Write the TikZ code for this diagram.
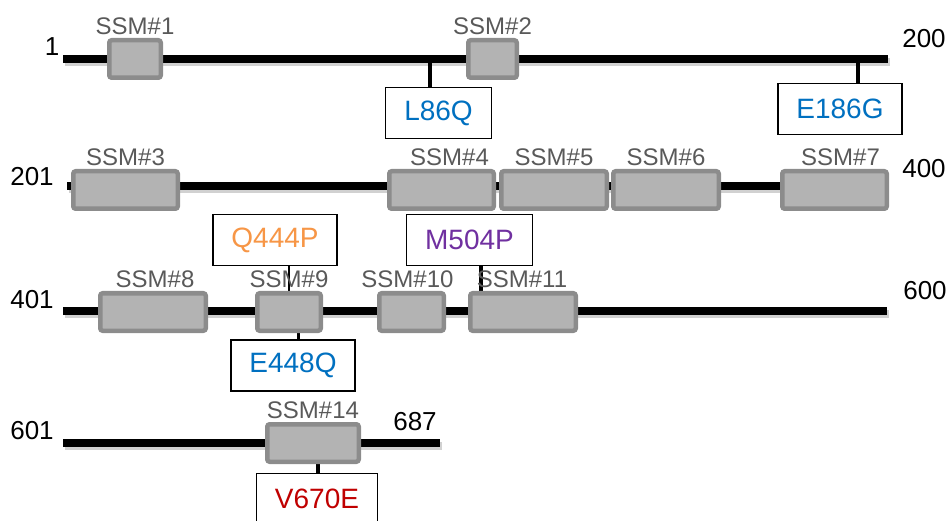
\documentclass[tikz,border=0pt]{standalone}
\usepackage{fontspec}
\setmainfont{Liberation Sans}
\usetikzlibrary{backgrounds}
\definecolor{ink}{HTML}{000000}
\definecolor{ssmfill}{HTML}{B3B3B3}
\definecolor{ssmedge}{HTML}{8C8C8C}
\definecolor{ssmtext}{HTML}{595959}
\definecolor{mutblue}{HTML}{0070C0}
\definecolor{mutorange}{HTML}{F79646}
\definecolor{mutpurple}{HTML}{7030A0}
\definecolor{mutred}{HTML}{C00000}

\begin{document}
\begin{tikzpicture}[x=1pt,y=-1pt,
  backbone/.style={line width=7.5pt,ink},
  bbshadow/.style={line width=7.5pt,black,opacity=.18},
  ssm/.style={draw=ssmedge,fill=ssmfill,line width=4.5pt,rounded corners=2.5pt,
    inner sep=0pt,outer sep=2.25pt,minimum height=37.5pt},
  ssmlabel/.style={text=ssmtext,font=\fontsize{24}{28}\selectfont,inner sep=0pt},
  mut/.style={draw=ink,fill=white,line width=1.4pt,inner xsep=18.5pt,
    minimum height=51pt,font=\fontsize{28}{32}\selectfont},
  posnum/.style={font=\fontsize{26}{30}\selectfont,inner sep=0pt},
  stemline/.style={line width=3.5pt,ink}]
  \useasboundingbox (0,0) rectangle (950,521);

  % backbones of the four rows
  \foreach \r/\y/\xa/\xb in {1/59/63/888, 2/186/67/885, 3/311/63/887, 4/443/63/440}
  {
    \coordinate (r\r a) at (\xa,\y);
    \coordinate (r\r b) at (\xb,\y);
    \draw[bbshadow] ([shift={(1.5,3)}]r\r a) -- ([shift={(1.5,3)}]r\r b);
    \draw[backbone] (r\r a) -- (r\r b);
  }

  % residue numbers
  \foreach \name/\txt/\x/\y in {n1/1/52/47, n200/200/924/39, n201/201/32/177,
    n400/400/924/169, n401/401/32/300, n600/600/925/291, n601/601/32/431,
    n687/687/415/422}
    \node[posnum] (\name) at (\x,\y) {\txt};

  % SSM boxes
  \foreach \n/\xa/\xb/\y in {1/107/163/59, 2/466/519/59,
    3/71/180/190, 4/387/496/190, 5/499/609/190, 6/611/721/190, 7/780/889/190,
    8/98/208/312, 9/255/323/312, 10/377/446/312, 11/468/578/312,
    14/265/361/443}
    \node[ssm,minimum width={\xb-\xa-4.5}] (ssm\n) at ({(\xa+\xb)/2},\y) {};

  \foreach \n/\dx in {1/0, 2/0, 3/0, 4/8, 5/0, 6/0, 7/6, 8/2, 9/0, 10/-4,
    11/-1, 14/0}
    \node[ssmlabel,anchor=south] (lab\n) at ([xshift=\dx pt,yshift=3pt]ssm\n.north) {SSM\#\n};

  % mutations
  \node[mut,text=mutblue] (l86q) at (438.5,113) {L86Q};
  \node[mut,text=mutblue] (e186g) at (840,109) {E186G};
  \node[mut,text=mutorange] (q444p) at (275,240) {Q444P};
  \node[mut,text=mutpurple] (m504p) at (469.5,240) {M504P};
  \node[mut,text=mutblue] (e448q) at (293,365.5) {E448Q};
  \node[mut,text=mutred] (v670e) at (317,499) {V670E};

  \begin{scope}[on background layer]
    \draw[stemline] ([xshift=-8.5pt]l86q.north) -- ([xshift=-8.5pt]l86q.north |- r1a);
    \draw[stemline] ([xshift=18pt]e186g.north) -- ([xshift=18pt]e186g.north |- r1a);
    \draw[stemline,line width=2.5pt] (q444p.south -| ssm9.north) -- (ssm9.north);
    \draw[stemline] ([xshift=11.5pt]m504p.south) -- ([xshift=11.5pt]m504p.south |- ssm11.north);
    \draw[stemline,line width=3pt] ([xshift=5pt]e448q.north) -- ([xshift=5pt]e448q.north |- ssm9.south);
    \draw[stemline] ([xshift=1pt]v670e.north) -- ([xshift=1pt]v670e.north |- ssm14.south);
  \end{scope}
\end{tikzpicture}
\end{document}
